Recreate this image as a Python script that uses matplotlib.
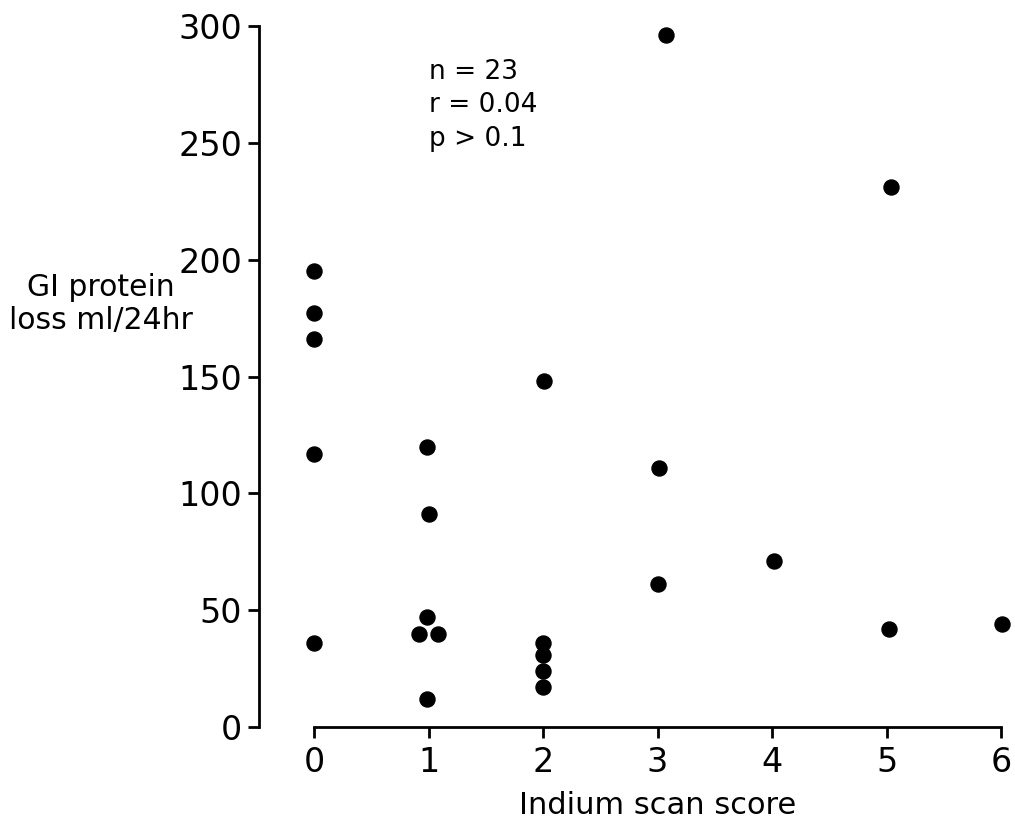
import matplotlib.pyplot as plt

plt.rcParams['font.family'] = ['DejaVu Sans']

# Indium scan score vs GI protein loss (23 patients)
scan_score = [0, 0, 0, 0, 0,
              0.99, 1.0, 0.99, 0.92, 1.08, 0.99,
              2.01, 2.0, 2.0, 2.0, 2.0,
              3.07, 3.01, 3.0,
              4.02,
              5.04, 5.02,
              6.01]
protein_loss = [195, 177, 166, 117, 36,
                120, 91, 47, 40, 40, 12,
                148, 36, 31, 24, 17,
                296, 111, 61,
                71,
                231, 42,
                44]

xticks = [0, 1, 2, 3, 4, 5, 6]
yticks = [0, 50, 100, 150, 200, 250, 300]
stats_text = 'n = 23\nr = 0.04\np > 0.1'

fig = plt.figure(figsize=(10.15, 8.32), dpi=100)
ax = fig.add_axes([0.3094, 0.1262, 0.6768, 0.8425])

ax.scatter(scan_score, protein_loss, s=117, color='black', clip_on=False, zorder=3)

ax.set_xlim(0, 6)
ax.set_ylim(0, 300)
ax.set_xticks(xticks)
ax.set_yticks(yticks)

for side in ['top', 'right']:
    ax.spines[side].set_visible(False)
ax.spines['left'].set_position(('outward', 39.6))
ax.spines['left'].set_linewidth(2)
ax.spines['bottom'].set_linewidth(2)
ax.spines['left'].set_bounds(0, 300)
ax.spines['bottom'].set_bounds(0, 6)

ax.tick_params(axis='both', direction='out', length=8, width=2, labelsize=24)
ax.tick_params(axis='y', pad=4)
ax.tick_params(axis='x', pad=6)

ax.set_xlabel('Indium scan score', fontsize=22, labelpad=8)

# y label sits horizontally to the left of the axis, as in the original
fig.text(101 / 1015, 1 - 304 / 832, 'GI protein\nloss ml/24hr', fontsize=21.5,
         ha='center', va='center', multialignment='center', linespacing=1.18)

ax.text(1.0, 286, stats_text, fontsize=19, va='top', ha='left', linespacing=1.38)

fig.savefig('out.png', dpi=100)
